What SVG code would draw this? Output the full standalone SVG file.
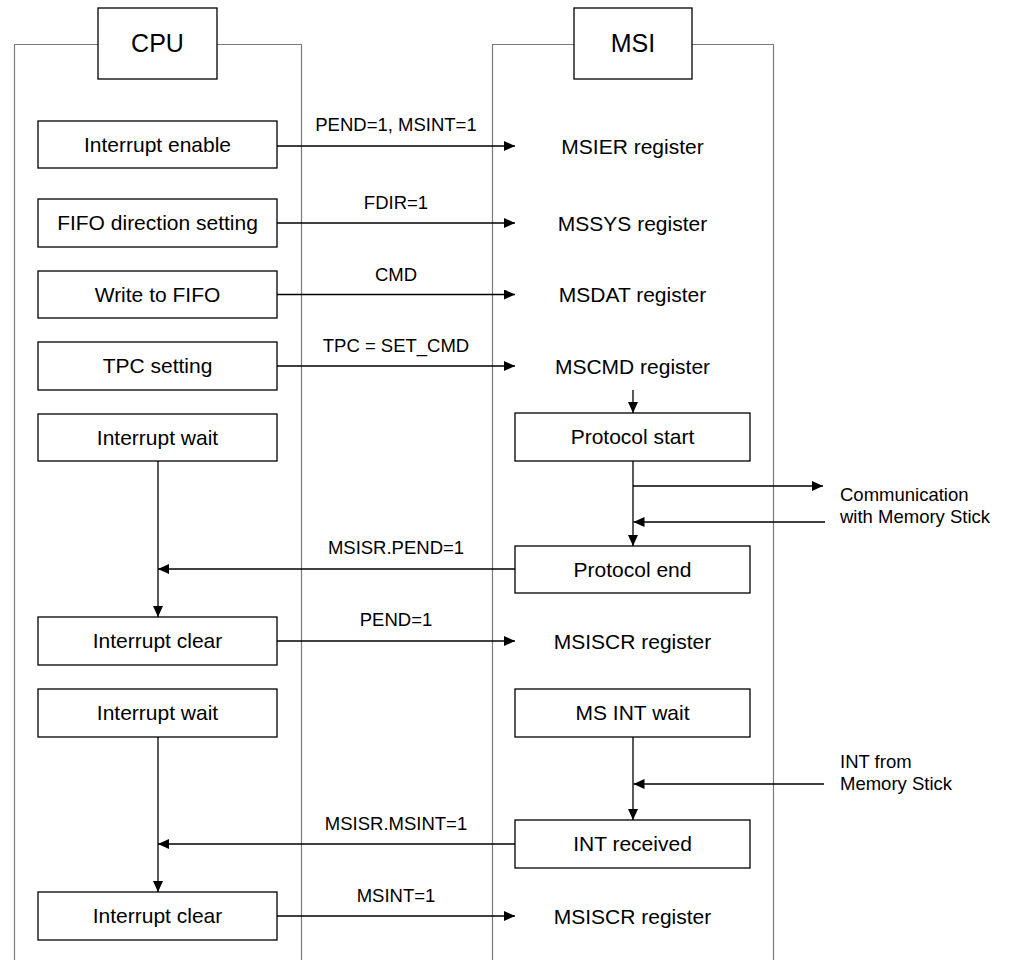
<svg xmlns="http://www.w3.org/2000/svg" width="1012" height="960" viewBox="0 0 1012 960">
<style>
.lane{fill:none;stroke:#7a7a7a;stroke-width:1.2}
.box{fill:#fff;stroke:#000;stroke-width:1.3}
.t{font-family:"Liberation Sans",Arial,sans-serif;font-size:21px;fill:#000;text-anchor:middle}
.title{font-family:"Liberation Sans",Arial,sans-serif;font-size:25px;fill:#000;text-anchor:middle}
.e{font-family:"Liberation Sans",Arial,sans-serif;font-size:18.5px;fill:#000;text-anchor:middle}
.s{font-family:"Liberation Sans",Arial,sans-serif;font-size:18.5px;fill:#000}
.c{fill:none;stroke:#000;stroke-width:1.3}
</style>
<defs>
<marker id="ah" markerUnits="userSpaceOnUse" markerWidth="11" markerHeight="10" refX="11" refY="5" orient="auto">
<path d="M0,0 L11,5 L0,10 z" fill="#000"/>
</marker>
</defs>
<g id="lane-cpu">
<path class="lane" d="M14.5,960 V44.5 H98 M217,44.5 H301.5 V960"/>
<rect class="box" x="98" y="8" width="119" height="71"/>
<text class="title" x="157.5" y="52">CPU</text>
</g>
<g id="lane-msi">
<path class="lane" d="M492.5,960 V44.5 H574 M692,44.5 H773.5 V960"/>
<rect class="box" x="574" y="8" width="118" height="71"/>
<text class="title" x="633" y="52">MSI</text>
</g>
<g id="connectors">
<path class="c" d="M277,146 H515" marker-end="url(#ah)"/>
<path class="c" d="M277,223 H515" marker-end="url(#ah)"/>
<path class="c" d="M277,294.5 H515" marker-end="url(#ah)"/>
<path class="c" d="M277,366 H515" marker-end="url(#ah)"/>
<path class="c" d="M633,390 V413" marker-end="url(#ah)"/>
<path class="c" d="M633,461 V546" marker-end="url(#ah)"/>
<path class="c" d="M633,486 H823" marker-end="url(#ah)"/>
<path class="c" d="M825,522 H633.5" marker-end="url(#ah)"/>
<path class="c" d="M515,569 H158" marker-end="url(#ah)"/>
<path class="c" d="M158,461 V617" marker-end="url(#ah)"/>
<path class="c" d="M277,641 H515" marker-end="url(#ah)"/>
<path class="c" d="M633,737 V820" marker-end="url(#ah)"/>
<path class="c" d="M824,784 H633.5" marker-end="url(#ah)"/>
<path class="c" d="M515,844 H158" marker-end="url(#ah)"/>
<path class="c" d="M158,737 V892" marker-end="url(#ah)"/>
<path class="c" d="M277,916 H515" marker-end="url(#ah)"/>
<text class="e" x="396" y="131">PEND=1, MSINT=1</text>
<text class="e" x="396" y="209">FDIR=1</text>
<text class="e" x="396" y="280.5">CMD</text>
<text class="e" x="396" y="351.5">TPC = SET_CMD</text>
<text class="e" x="396" y="553.5">MSISR.PEND=1</text>
<text class="e" x="396" y="625.5">PEND=1</text>
<text class="e" x="396" y="829.5">MSISR.MSINT=1</text>
<text class="e" x="396" y="901.5">MSINT=1</text>
</g>
<g id="cpu-interrupt-enable"><rect class="box" x="38" y="121" width="239" height="47"/><text class="t" x="157.5" y="152">Interrupt enable</text></g>
<g id="cpu-fifo-direction"><rect class="box" x="38" y="199" width="239" height="48"/><text class="t" x="157.5" y="230">FIFO direction setting</text></g>
<g id="cpu-write-fifo"><rect class="box" x="38" y="271" width="239" height="47"/><text class="t" x="157.5" y="301.5">Write to FIFO</text></g>
<g id="cpu-tpc-setting"><rect class="box" x="38" y="342" width="239" height="48"/><text class="t" x="157.5" y="373">TPC setting</text></g>
<g id="cpu-interrupt-wait-1"><rect class="box" x="38" y="414" width="239" height="47"/><text class="t" x="157.5" y="444.5">Interrupt wait</text></g>
<g id="cpu-interrupt-clear-1"><rect class="box" x="38" y="617" width="239" height="48"/><text class="t" x="157.5" y="648">Interrupt clear</text></g>
<g id="cpu-interrupt-wait-2"><rect class="box" x="38" y="689" width="239" height="48"/><text class="t" x="157.5" y="720">Interrupt wait</text></g>
<g id="cpu-interrupt-clear-2"><rect class="box" x="38" y="892" width="239" height="48"/><text class="t" x="157.5" y="923">Interrupt clear</text></g>
<g id="msi-msier"><text class="t" x="632.5" y="153.5">MSIER register</text></g>
<g id="msi-mssys"><text class="t" x="632.5" y="230.5">MSSYS register</text></g>
<g id="msi-msdat"><text class="t" x="632.5" y="302">MSDAT register</text></g>
<g id="msi-mscmd"><text class="t" x="632.5" y="373.5">MSCMD register</text></g>
<g id="msi-protocol-start"><rect class="box" x="515" y="413" width="235" height="48"/><text class="t" x="632.5" y="444">Protocol start</text></g>
<g id="msi-protocol-end"><rect class="box" x="515" y="546" width="235" height="47"/><text class="t" x="632.5" y="577">Protocol end</text></g>
<g id="msi-msiscr-1"><text class="t" x="632.5" y="648.5">MSISCR register</text></g>
<g id="msi-ms-int-wait"><rect class="box" x="515" y="689" width="235" height="48"/><text class="t" x="632.5" y="720">MS INT wait</text></g>
<g id="msi-int-received"><rect class="box" x="515" y="820" width="235" height="48"/><text class="t" x="632.5" y="851">INT received</text></g>
<g id="msi-msiscr-2"><text class="t" x="632.5" y="923.5">MSISCR register</text></g>
<g id="ext-communication"><text class="s" x="840" y="501"><tspan x="840">Communication</tspan><tspan x="840" dy="22">with Memory Stick</tspan></text></g>
<g id="ext-int-from"><text class="s" x="840" y="768"><tspan x="840">INT from</tspan><tspan x="840" dy="22">Memory Stick</tspan></text></g>
</svg>
